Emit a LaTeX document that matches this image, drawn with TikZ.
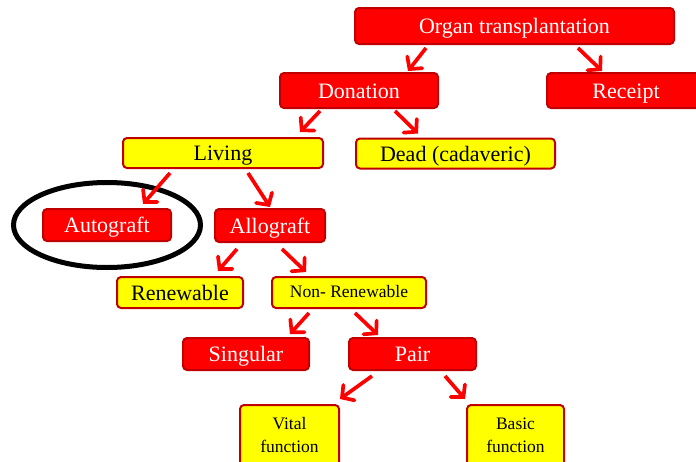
\documentclass[tikz,border=0pt]{standalone}
\usepackage{fontspec}
\setmainfont{Liberation Serif}
\usetikzlibrary{arrows.meta}
\definecolor{boxred}{RGB}{255,0,0}
\definecolor{edgered}{RGB}{192,0,0}
\definecolor{boxyellow}{RGB}{255,255,0}
\begin{document}
\begin{tikzpicture}[x=1pt,y=-1pt,
  box/.style={draw=edgered, line width=2pt, rounded corners=4pt, inner sep=0pt,
              align=center, text height=15.5pt, text depth=0pt,
              font=\fontsize{22}{24}\selectfont},
  redbox/.style={box, fill=boxred, text=white},
  yellowbox/.style={box, fill=boxyellow, text=black},
  twoline/.style={text height=, text depth=, font=\fontsize{17.5}{23}\selectfont},
  sz/.style n args={2}{minimum width=#1pt, minimum height=#2pt},
  arr/.style={draw=boxred, line width=3.7pt,
              -{Straight Barb[length=8.5pt,width=19pt,line cap=round]}}]
\useasboundingbox (0,0) rectangle (696,461);
\clip (0,0) rectangle (696,461);

% tree nodes
\node[redbox, sz={319}{36}] (organ) at (514.5,26) {Organ transplantation};
\node[redbox, sz={158}{35}] (donation) at (359,90.5) {Donation};
\node[redbox, sz={158}{35}] (receipt) at (626,90.5) {Receipt};
\node[yellowbox, sz={200}{30}] (living) at (223,153) {Living};
\node[yellowbox, sz={199}{30}] (dead) at (455.5,153.5) {Dead (cadaveric)};
\node[redbox, sz={128}{32}] (autograft) at (107,225) {Autograft};
\node[redbox, sz={110}{33}] (allograft) at (270,225.5) {Allograft};
\node[yellowbox, sz={126}{31}] (renewable) at (180,292.5) {Renewable};
\node[yellowbox, sz={154}{31}, text height=10pt, font=\fontsize{17.5}{19}\selectfont] (nonren) at (349,292.5) {Non- Renewable};
\node[redbox, sz={126}{32}] (singular) at (246,354) {Singular};
\node[redbox, sz={127}{32}] (pair) at (412.5,354) {Pair};
\node[yellowbox, twoline, sz={99}{61}] (vital) at (289.5,435.5) {Vital\\function};
\node[yellowbox, twoline, sz={97}{61}] (basic) at (515.5,435.5) {Basic\\function};

% highlight around the autograft node
\draw[black, line width=5pt] (autograft) ellipse [x radius=93.5pt, y radius=42.5pt];

% connectors
\draw[arr] ([xshift=-88.5pt,yshift=-3pt]organ.south) -- ([xshift=49pt,yshift=1pt]donation.north);
\draw[arr] ([xshift=63.5pt,yshift=-3pt]organ.south) -- ([xshift=-24pt,yshift=1pt]receipt.north);
\draw[arr] ([xshift=-39pt,yshift=-2pt]donation.south) -- ([xshift=77pt,yshift=5pt]living.north);
\draw[arr] ([xshift=36pt,yshift=-2pt]donation.south) -- ([xshift=-37.5pt,yshift=4pt]dead.north);
\draw[arr] ([xshift=-53pt,yshift=-4pt]living.south) -- ([xshift=36pt,yshift=4pt]autograft.north);
\draw[arr] ([xshift=25pt,yshift=-4pt]living.south) -- ([xshift=0pt,yshift=1pt]allograft.north);
\draw[arr] ([xshift=-33pt,yshift=-6pt]allograft.south) -- ([xshift=38pt,yshift=5pt]renewable.north);
\draw[arr] ([xshift=12pt,yshift=-6pt]allograft.south) -- ([xshift=-43pt,yshift=4pt]nonren.north);
\draw[arr] ([xshift=-40pt,yshift=-4pt]nonren.south) -- ([xshift=44pt,yshift=3pt]singular.north);
\draw[arr] ([xshift=6pt,yshift=-4pt]nonren.south) -- ([xshift=-34.5pt,yshift=2pt]pair.north);
\draw[arr] ([xshift=-40.5pt,yshift=-5pt]pair.south) -- ([xshift=50.5pt,yshift=5pt]vital.north);
\draw[arr] ([xshift=32.5pt,yshift=-5pt]pair.south) -- ([xshift=-50.5pt,yshift=5pt]basic.north);
\end{tikzpicture}
\end{document}
